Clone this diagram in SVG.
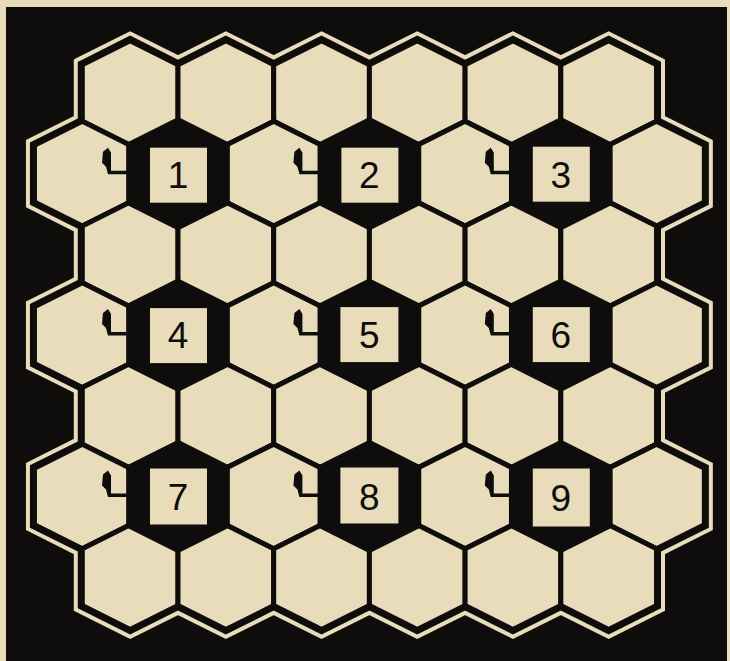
<svg xmlns="http://www.w3.org/2000/svg" xmlns:xlink="http://www.w3.org/1999/xlink" width="730" height="661" viewBox="0 0 730 661">
<defs>
<style>
.paper{fill:#e8dcba}
.ink{fill:#0f0d0c}
.cell{fill:#e8dcba;stroke:#0f0d0c;stroke-width:5;stroke-linejoin:miter}
.dark{fill:#0f0d0c;stroke:#0f0d0c;stroke-width:8;stroke-linejoin:miter}
.sq{fill:#e8dcba}
.num{font-family:"Liberation Sans","DejaVu Sans",sans-serif;font-size:37px;fill:#0f0d0c;text-anchor:middle}
.latch{fill:#0f0d0c}
</style>
<polygon id="hex" points="0,-52.35 47.85,-28.35 47.85,28.35 0,52.35 -47.85,28.35 -47.85,-28.35"/>
<polygon id="latch" points="-75,-22 -70,-26 -67,-21 -67,-3 -48,-3 -48,0.5 -70,0.5 -72,-7 -76,-11"/>
</defs>
<rect class="paper" x="0" y="0" width="730" height="661"/>
<rect class="ink" x="6" y="7" width="721" height="654"/>
<g id="outline">
<polygon points="82.3,64.65 130.15,40.65 178,64.65 225.85,40.65 273.7,64.65 321.55,40.65 369.4,64.65 417.25,40.65 465.1,64.65 512.95,40.65 560.8,64.65 608.65,40.65 656.5,64.65 656.5,121.35 704.35,145.35 704.35,202.05 656.5,226.05 656.5,282.75 704.35,306.75 704.35,363.45 656.5,387.45 656.5,444.15 704.35,468.15 704.35,524.85 656.5,548.85 656.5,605.55 608.65,629.55 560.8,605.55 512.95,629.55 465.1,605.55 417.25,629.55 369.4,605.55 321.55,629.55 273.7,605.55 225.85,629.55 178,605.55 130.15,629.55 82.3,605.55 82.3,548.85 34.45,524.85 34.45,468.15 82.3,444.15 82.3,387.45 34.45,363.45 34.45,306.75 82.3,282.75 82.3,226.05 34.45,202.05 34.45,145.35 82.3,121.35" fill="#0f0d0c" stroke="#e8dcba" stroke-width="17" stroke-linejoin="miter"/>
<polygon points="82.3,64.65 130.15,40.65 178,64.65 225.85,40.65 273.7,64.65 321.55,40.65 369.4,64.65 417.25,40.65 465.1,64.65 512.95,40.65 560.8,64.65 608.65,40.65 656.5,64.65 656.5,121.35 704.35,145.35 704.35,202.05 656.5,226.05 656.5,282.75 704.35,306.75 704.35,363.45 656.5,387.45 656.5,444.15 704.35,468.15 704.35,524.85 656.5,548.85 656.5,605.55 608.65,629.55 560.8,605.55 512.95,629.55 465.1,605.55 417.25,629.55 369.4,605.55 321.55,629.55 273.7,605.55 225.85,629.55 178,605.55 130.15,629.55 82.3,605.55 82.3,548.85 34.45,524.85 34.45,468.15 82.3,444.15 82.3,387.45 34.45,363.45 34.45,306.75 82.3,282.75 82.3,226.05 34.45,202.05 34.45,145.35 82.3,121.35" fill="#0f0d0c" stroke="#0f0d0c" stroke-width="9" stroke-linejoin="miter"/>
</g>
<g id="cells">
<use id="r0c0" class="cell" href="#hex" x="130.15" y="93"/>
<use id="r0c1" class="cell" href="#hex" x="225.85" y="93"/>
<use id="r0c2" class="cell" href="#hex" x="321.55" y="93"/>
<use id="r0c3" class="cell" href="#hex" x="417.25" y="93"/>
<use id="r0c4" class="cell" href="#hex" x="512.95" y="93"/>
<use id="r0c5" class="cell" href="#hex" x="608.65" y="93"/>
<use id="r1c0" class="cell" href="#hex" x="82.3" y="173.7"/>
<use id="r1c2" class="cell" href="#hex" x="273.7" y="173.7"/>
<use id="r1c4" class="cell" href="#hex" x="465.1" y="173.7"/>
<use id="r1c6" class="cell" href="#hex" x="656.5" y="173.7"/>
<use id="r2c0" class="cell" href="#hex" x="130.15" y="254.4"/>
<use id="r2c1" class="cell" href="#hex" x="225.85" y="254.4"/>
<use id="r2c2" class="cell" href="#hex" x="321.55" y="254.4"/>
<use id="r2c3" class="cell" href="#hex" x="417.25" y="254.4"/>
<use id="r2c4" class="cell" href="#hex" x="512.95" y="254.4"/>
<use id="r2c5" class="cell" href="#hex" x="608.65" y="254.4"/>
<use id="r3c0" class="cell" href="#hex" x="82.3" y="335.1"/>
<use id="r3c2" class="cell" href="#hex" x="273.7" y="335.1"/>
<use id="r3c4" class="cell" href="#hex" x="465.1" y="335.1"/>
<use id="r3c6" class="cell" href="#hex" x="656.5" y="335.1"/>
<use id="r4c0" class="cell" href="#hex" x="130.15" y="415.8"/>
<use id="r4c1" class="cell" href="#hex" x="225.85" y="415.8"/>
<use id="r4c2" class="cell" href="#hex" x="321.55" y="415.8"/>
<use id="r4c3" class="cell" href="#hex" x="417.25" y="415.8"/>
<use id="r4c4" class="cell" href="#hex" x="512.95" y="415.8"/>
<use id="r4c5" class="cell" href="#hex" x="608.65" y="415.8"/>
<use id="r5c0" class="cell" href="#hex" x="82.3" y="496.5"/>
<use id="r5c2" class="cell" href="#hex" x="273.7" y="496.5"/>
<use id="r5c4" class="cell" href="#hex" x="465.1" y="496.5"/>
<use id="r5c6" class="cell" href="#hex" x="656.5" y="496.5"/>
<use id="r6c0" class="cell" href="#hex" x="130.15" y="577.2"/>
<use id="r6c1" class="cell" href="#hex" x="225.85" y="577.2"/>
<use id="r6c2" class="cell" href="#hex" x="321.55" y="577.2"/>
<use id="r6c3" class="cell" href="#hex" x="417.25" y="577.2"/>
<use id="r6c4" class="cell" href="#hex" x="512.95" y="577.2"/>
<use id="r6c5" class="cell" href="#hex" x="608.65" y="577.2"/>
</g>
<g id="cell1" transform="translate(178,173.7)"><use class="dark" href="#hex"/><rect class="sq" x="-28" y="-26" width="57" height="55"/><text class="num" x="0" y="14">1</text><use class="latch" href="#latch"/></g>
<g id="cell2" transform="translate(369.4,173.7)"><use class="dark" href="#hex"/><rect class="sq" x="-28" y="-26" width="57" height="55"/><text class="num" x="0" y="14">2</text><use class="latch" href="#latch"/></g>
<g id="cell3" transform="translate(560.8,173.7)"><use class="dark" href="#hex"/><rect class="sq" x="-28" y="-27" width="57" height="55"/><text class="num" x="0" y="14">3</text><use class="latch" href="#latch"/></g>
<g id="cell4" transform="translate(178,335.1)"><use class="dark" href="#hex"/><rect class="sq" x="-28" y="-27" width="57" height="55"/><text class="num" x="0" y="13">4</text><use class="latch" href="#latch"/></g>
<g id="cell5" transform="translate(369.4,335.1)"><use class="dark" href="#hex"/><rect class="sq" x="-29" y="-28" width="58" height="55"/><text class="num" x="0" y="13">5</text><use class="latch" href="#latch"/></g>
<g id="cell6" transform="translate(560.8,335.1)"><use class="dark" href="#hex"/><rect class="sq" x="-28" y="-28" width="57" height="55"/><text class="num" x="0" y="13">6</text><use class="latch" href="#latch"/></g>
<g id="cell7" transform="translate(178,496.5)"><use class="dark" href="#hex"/><rect class="sq" x="-28" y="-28" width="57" height="56"/><text class="num" x="0" y="13">7</text><use class="latch" href="#latch"/></g>
<g id="cell8" transform="translate(369.4,496.5)"><use class="dark" href="#hex"/><rect class="sq" x="-29" y="-29" width="58" height="56"/><text class="num" x="0" y="13">8</text><use class="latch" href="#latch"/></g>
<g id="cell9" transform="translate(560.8,496.5)"><use class="dark" href="#hex"/><rect class="sq" x="-28" y="-28" width="57" height="58"/><text class="num" x="0" y="14">9</text><use class="latch" href="#latch"/></g>
</svg>
